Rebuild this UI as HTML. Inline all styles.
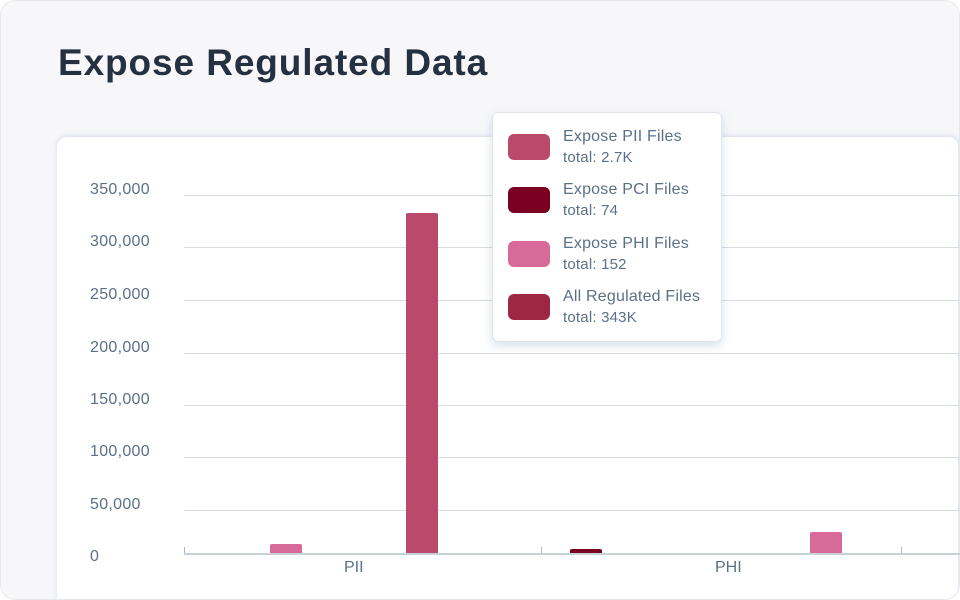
<!DOCTYPE html>
<html><head><meta charset="utf-8"><style>
body{margin:0;width:960px;height:600px;overflow:hidden;background:#fff;font-family:"Liberation Sans",sans-serif;}
.outer{position:absolute;left:0;top:0;width:958px;height:598px;border:1px solid #e3e8ef;border-radius:16px;background:#f7f7fa;overflow:hidden;}
h1{position:absolute;left:57px;top:41px;margin:0;font-size:37px;font-weight:bold;color:#253040;letter-spacing:0.9px;}
.inner{position:absolute;left:56px;top:136px;width:901px;height:480px;background:#fff;border-radius:10px;border-right:1px solid #e3e8ef;box-shadow:0 -1px 4px rgba(180,195,220,0.5);}
.yl{position:absolute;left:90px;font-size:16px;color:#5b7088;width:70px;text-align:left;letter-spacing:0.3px;}
.g{position:absolute;left:184px;width:776px;height:1px;background:#d8dce3;}
.bar{position:absolute;border-radius:2px 2px 0 0;}
.tt{position:absolute;left:492px;top:112px;width:228px;height:228px;background:#fff;border:1px solid #e2e6ec;border-radius:6px;box-shadow:0 4px 10px rgba(120,160,190,0.3);}
.sw{position:absolute;left:15px;width:42px;height:26px;border-radius:6px;}
.t1,.t2{position:absolute;left:70px;color:#5b7088;font-size:16px;letter-spacing:0.2px;white-space:nowrap;}
.t2{font-size:15px;}
</style></head><body>
<div class="outer">
<h1>Expose Regulated Data</h1>
<div class="inner"></div>
</div>
<div class="yl" style="top:181px">350,000</div>
<div class="yl" style="top:233px">300,000</div>
<div class="yl" style="top:286px">250,000</div>
<div class="yl" style="top:339px">200,000</div>
<div class="yl" style="top:391px">150,000</div>
<div class="yl" style="top:443px">100,000</div>
<div class="yl" style="top:496px">50,000</div>
<div class="yl" style="top:548px">0</div>
<div class="g" style="top:195px"></div>
<div class="g" style="top:247px"></div>
<div class="g" style="top:300px"></div>
<div class="g" style="top:353px"></div>
<div class="g" style="top:405px"></div>
<div class="g" style="top:457px"></div>
<div class="g" style="top:510px"></div>
<div class="bar" style="left:270px;top:544px;width:32px;height:9px;background:#d86a9a"></div>
<div class="bar" style="left:406px;top:213px;width:32px;height:340px;background:#b94a6c"></div>
<div class="bar" style="left:570px;top:549px;width:32px;height:4px;background:#7a0022"></div>
<div class="bar" style="left:810px;top:532px;width:32px;height:21px;background:#d86a9a"></div>
<div style="position:absolute;left:184px;top:553px;width:776px;height:2px;background:#c8d0d8"></div>
<div style="position:absolute;left:184px;top:547px;width:1px;height:6px;background:#b0bac6"></div>
<div style="position:absolute;left:541px;top:547px;width:1px;height:6px;background:#b0bac6"></div>
<div style="position:absolute;left:901px;top:547px;width:1px;height:6px;background:#b0bac6"></div>
<div style="position:absolute;left:344px;top:559px;font-size:16px;color:#5b7088">PII</div>
<div style="position:absolute;left:715px;top:559px;font-size:16px;color:#5b7088">PHI</div>
<div class="tt">
<div class="sw" style="top:21px;background:#b94a6c"></div>
<div class="t1" style="top:15px">Expose PII Files</div><div class="t2" style="top:36px">total: 2.7K</div>
<div class="sw" style="top:74px;background:#7a0022"></div>
<div class="t1" style="top:68px">Expose PCI Files</div><div class="t2" style="top:89px">total: 74</div>
<div class="sw" style="top:128px;background:#d86a9a"></div>
<div class="t1" style="top:122px">Expose PHI Files</div><div class="t2" style="top:143px">total: 152</div>
<div class="sw" style="top:181px;background:#9e2843"></div>
<div class="t1" style="top:175px">All Regulated Files</div><div class="t2" style="top:196px">total: 343K</div>
</div>
</body></html>
